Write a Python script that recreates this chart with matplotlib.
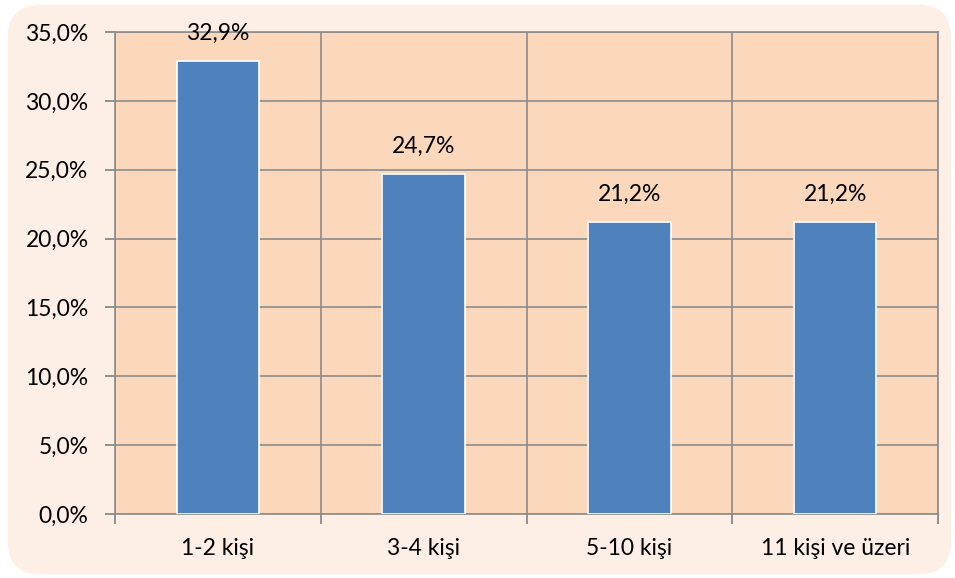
import matplotlib
matplotlib.use("Agg")
import matplotlib.pyplot as plt
from matplotlib.patches import FancyBboxPatch
from matplotlib.ticker import FixedLocator, FuncFormatter
import numpy as np

categories = ["1-2 kişi", "3-4 kişi", "5-10 kişi", "11 kişi ve üzeri"]
values = [32.9, 24.7, 21.2, 21.2]
yticks = [0, 5, 10, 15, 20, 25, 30, 35]

plt.rcParams['font.family'] = ['Lato', 'DejaVu Sans']
FS = 16.5

fig = plt.figure(figsize=(9.55, 5.78), dpi=100)
fig.patch.set_facecolor('white')
bg = FancyBboxPatch((0.008, 0.006), 0.988, 0.986, boxstyle="round,pad=0,rounding_size=0.035",
                    transform=fig.transFigure, facecolor='#fdefe5', edgecolor='none',
                    mutation_aspect=955/578, zorder=-10)
fig.add_artist(bg)

ax = fig.add_axes([115/955, 1 - 514/578, (938 - 115)/955, (514 - 32)/578])
ax.set_zorder(1)
ax.set_facecolor('#fbd8bc')
x = np.arange(len(categories))
bars = ax.bar(x, values, width=0.4, color='#4f81bd', edgecolor='white', linewidth=1.2, zorder=3)
for xi, v in zip(x, values):
    ax.text(xi, v + 2.0, f"{v:.1f}%".replace('.', ','), ha='center', va='center', fontsize=FS, color='black', zorder=4)

ax.set_xlim(-0.5, len(categories) - 0.5)
ax.set_ylim(0, 35)
ax.set_yticks(yticks)
ax.yaxis.set_major_formatter(FuncFormatter(lambda v, p: f"{v:.1f}%".replace('.', ',')))
ax.set_xticks(x)
ax.set_xticklabels(categories)
ax.xaxis.set_minor_locator(FixedLocator(np.arange(-0.5, len(categories), 1.0)))
ax.tick_params(axis='x', which='major', length=0, pad=17, labelsize=FS)
ax.tick_params(axis='x', which='minor', length=7, color='#808080', width=1.2)
ax.tick_params(axis='y', length=7, color='#808080', width=1.2, labelsize=FS, pad=12)
ax.grid(axis='y', color='#8c8c8c', linewidth=1.2, zorder=1)
ax.grid(axis='x', which='minor', color='#8c8c8c', linewidth=1.2, zorder=1)
ax.set_axisbelow(True)
for s in ax.spines.values():
    s.set_color('#8c8c8c')
    s.set_linewidth(1.2)

fig.savefig('out.png', dpi=100, facecolor='white')
